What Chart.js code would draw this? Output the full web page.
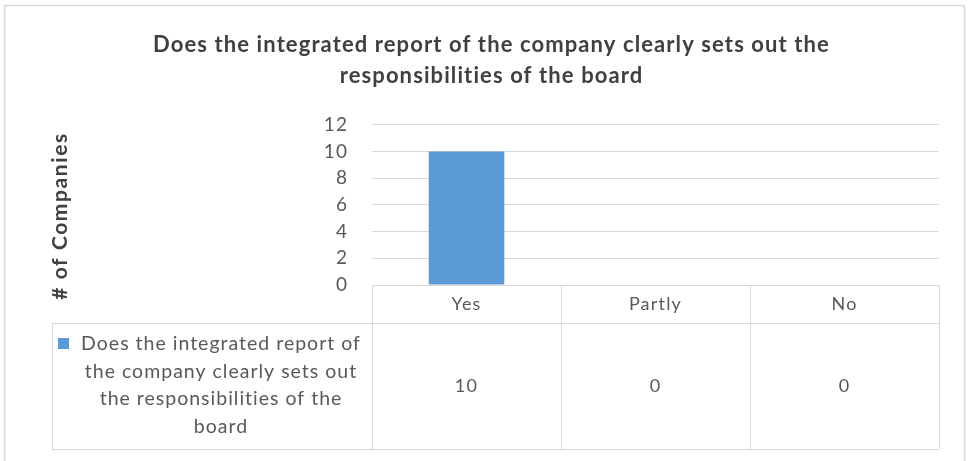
<!DOCTYPE html>
<html>
<head>
<meta charset="utf-8">
<script src="https://cdn.jsdelivr.net/npm/chart.js"></script>
<style>
  html, body { margin: 0; padding: 0; background: #fff; }
  #wrap { position: relative; width: 969px; height: 461px; }
</style>
</head>
<body>
<div id="wrap"><canvas id="board" width="969" height="461"></canvas></div>
<script>
// Survey answers and counts
const categories = ["Yes", "Partly", "No"];
const companies = [10, 0, 0];
const seriesName = "Does the integrated report of the company clearly sets out the responsibilities of the board";
const seriesLines = ["Does the integrated report of", "the company clearly sets out", "the responsibilities of the", "board"];
const titleLines = ["Does the integrated report of the company clearly sets out the", "responsibilities of the board"];
const yTitle = "# of Companies";

const FONT = "Lato, 'Liberation Sans', sans-serif";
const BAR = "#5B9BD5";
const GRID = "#d9d9d9";
const TEXT = "#595959";

// Frame, y-axis title and the data table under the plot
const tablePlugin = {
  id: "dataTable",
  beforeDraw(chart) {
    const ctx = chart.ctx;
    ctx.save();
    ctx.strokeStyle = GRID;
    ctx.lineWidth = 1.5;
    ctx.strokeRect(4.5, 5.5, 960, 470);
    ctx.restore();
    // the wide-set lettering applies to title and tick labels too
    ctx.letterSpacing = "1.1px";
  },
  afterDraw(chart) {
    const ctx = chart.ctx;
    const x = chart.scales.x;
    const area = chart.chartArea;
    const headTop = area.bottom;
    const rowTop = headTop + 38;
    const rowBottom = 449;
    const tableLeft = 52;
    const half = (x.getPixelForValue(1) - x.getPixelForValue(0)) / 2;

    ctx.save();
    ctx.strokeStyle = GRID;
    ctx.lineWidth = 1;
    ctx.beginPath();
    // column separators
    const edges = [x.getPixelForValue(0) - half];
    categories.forEach((c, i) => edges.push(x.getPixelForValue(i) + half));
    edges.forEach((ex) => {
      ctx.moveTo(Math.round(ex) + 0.5, headTop);
      ctx.lineTo(Math.round(ex) + 0.5, rowBottom);
    });
    ctx.moveTo(tableLeft + 0.5, rowTop);
    ctx.lineTo(tableLeft + 0.5, rowBottom);
    ctx.moveTo(tableLeft, rowTop + 0.5);
    ctx.lineTo(edges[edges.length - 1], rowTop + 0.5);
    ctx.moveTo(tableLeft, rowBottom + 0.5);
    ctx.lineTo(edges[edges.length - 1], rowBottom + 0.5);
    ctx.stroke();

    // header labels and values
    ctx.fillStyle = TEXT;
    ctx.font = "18px " + FONT;
    ctx.letterSpacing = "1.2px";
    ctx.textAlign = "center";
    ctx.textBaseline = "middle";
    categories.forEach((c, i) => {
      const cx = x.getPixelForValue(i);
      ctx.fillText(c, cx, (headTop + rowTop) / 2);
      ctx.fillText(String(companies[i]), cx, (rowTop + rowBottom) / 2);
    });

    // legend cell
    ctx.fillStyle = BAR;
    ctx.fillRect(58, 338, 11, 11);
    ctx.fillStyle = TEXT;
    ctx.font = "19.5px " + FONT;
    ctx.letterSpacing = "1px";
    const cellMid = 221;
    seriesLines.forEach((line, i) => {
      ctx.fillText(line, cellMid, 344 + i * 27.5);
    });

    // y-axis title
    ctx.translate(60, 216);
    ctx.rotate(-Math.PI / 2);
    ctx.fillStyle = "#404040";
    ctx.font = "bold 21px " + FONT;
    ctx.letterSpacing = "1.6px";
    ctx.fillText(yTitle, 0, 0);
    ctx.restore();
    ctx.letterSpacing = "0px";
  }
};

const chart = new Chart(document.getElementById("board"), {
  type: "bar",
  data: {
    labels: categories,
    datasets: [{
      label: seriesName,
      data: companies,
      backgroundColor: BAR,
      borderWidth: 0,
      categoryPercentage: 1,
      barPercentage: 0.4
    }]
  },
  options: {
    responsive: false,
    animation: false,
    devicePixelRatio: 1,
    layout: { padding: { left: 44, right: 30, top: 0, bottom: 176 } },
    plugins: {
      legend: { display: false },
      tooltip: { enabled: false },
      title: {
        display: true,
        text: titleLines,
        color: "#404040",
        font: { family: FONT, size: 22, weight: "bold", lineHeight: 1.38 },
        padding: { top: 30, bottom: 34 }
      }
    },
    scales: {
      x: { display: false },
      y: {
        min: 0,
        max: 12,
        afterFit(scale) { scale.width = 328; },
        ticks: { stepSize: 2, color: TEXT, font: { family: FONT, size: 19 }, padding: 24 },
        grid: { color: GRID, drawTicks: false },
        border: { display: false }
      }
    }
  },
  plugins: [tablePlugin]
});
</script>
</body>
</html>
